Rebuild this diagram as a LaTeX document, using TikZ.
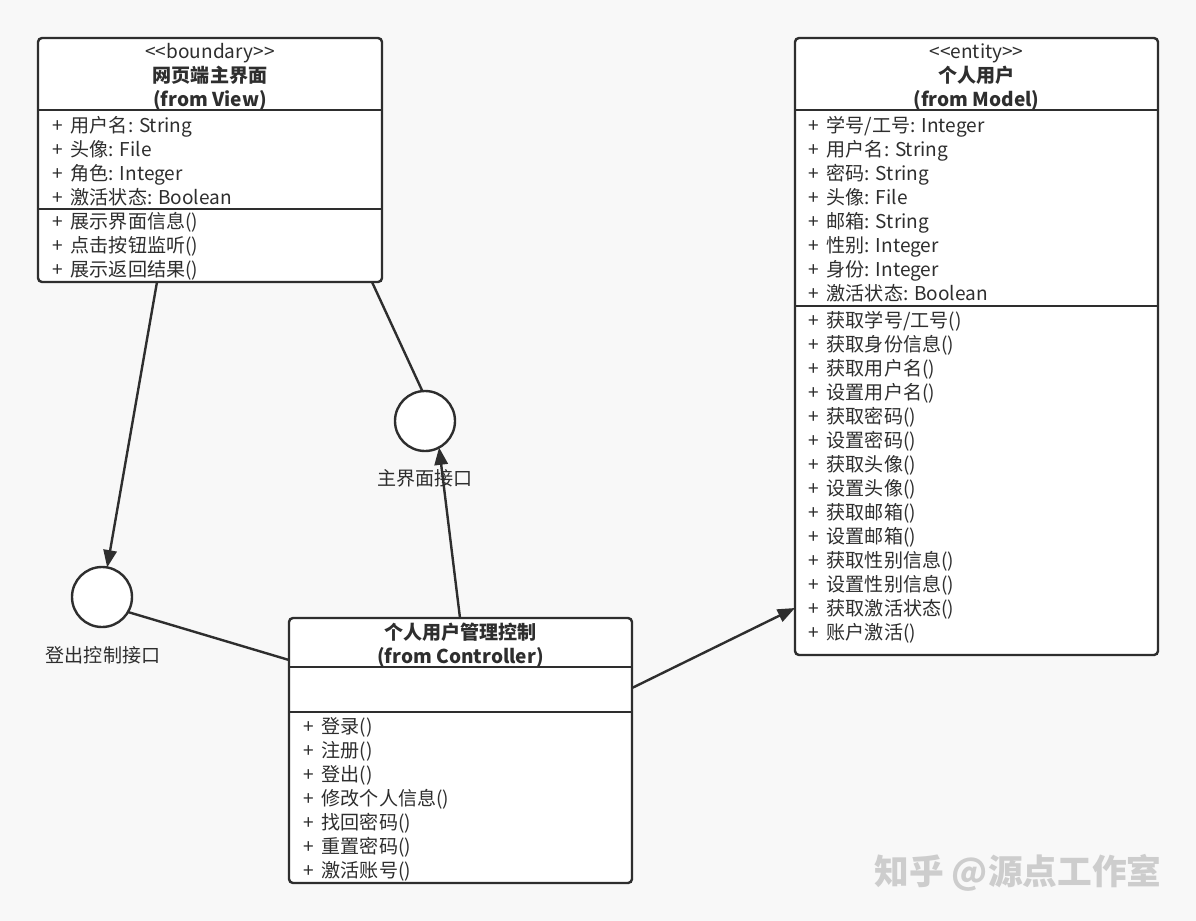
\documentclass[tikz,border=0pt]{standalone}
\usepackage{fontspec}
\setmainfont{Noto Sans CJK SC}
\usetikzlibrary{arrows.meta}
\definecolor{bg}{HTML}{F8F8F8}
\definecolor{ink}{HTML}{2E2E2E}
\definecolor{wmc}{HTML}{CDCDCD}
\newcommand\pl{+\hspace{6pt}}
\tikzset{
 classbox/.style={draw=ink, fill=white, line width=1.8pt, rounded corners=3pt, inner sep=0pt, outer sep=0pt},
 sepline/.style={draw=ink, line width=1.8pt},
 row/.style={anchor=base west, inner sep=0pt, font=\fontsize{14.3pt}{16pt}\selectfont, text=ink},
 ctitle/.style={anchor=base, inner sep=0pt, font=\fontsize{14.3pt}{16pt}\selectfont, text=ink},
 btitle/.style={ctitle, font=\fontsize{14.3pt}{16pt}\selectfont\bfseries},
 iface/.style={circle, draw=ink, fill=white, line width=1.8pt, minimum size=45pt, inner sep=0pt, outer sep=0pt},
 lbl/.style={inner sep=0pt, font=\fontsize{14.3pt}{16pt}\selectfont, text=ink},
 link/.style={draw=ink, line width=1.8pt},
 arr/.style={link, -{Triangle[length=13pt,width=10pt]}},
 wmark/.style={inner sep=0pt, font=\fontsize{26pt}{28pt}\selectfont\bfseries, text=wmc},
}
\begin{document}
\begin{tikzpicture}[x=0.75pt,y=-0.75pt]
\fill[bg] (0,0) rectangle (1196,921);
\useasboundingbox (0,0) rectangle (1196,921);

% ---------- Box 1: boundary ----------
\node[classbox, minimum width=258pt, minimum height=183pt] (b1) at (210,160) {};
\draw[sepline] (38,110) -- (382,110);
\draw[sepline] (38,209) -- (382,209);
\node[ctitle] (b1t1) at (210,58.5) {<\kern0pt<boundary>\kern0pt>};
\node[btitle] (b1t2) at (210,82.5) {网页端主界面};
\node[btitle] (b1t3) at (210,106.5) {(from View)};
\node[row] (b1r1) at (52,132.5) {\pl 用户名: String};
\node[row] (b1r2) at (52,156.5) {\pl 头像: File};
\node[row] (b1r3) at (52,180.5) {\pl 角色: Integer};
\node[row] (b1r4) at (52,204.5) {\pl 激活状态: Boolean};
\node[row] (b1m1) at (52,228.5) {\pl 展示界面信息()};
\node[row] (b1m2) at (52,252.5) {\pl 点击按钮监听()};
\node[row] (b1m3) at (52,276.5) {\pl 展示返回结果()};

% ---------- Box 2: entity ----------
\node[classbox, minimum width=272.25pt, minimum height=462.75pt] (b2) at (976.5,346.5) {};
\draw[sepline] (795,110) -- (1158,110);
\draw[sepline] (795,306) -- (1158,306);
\node[ctitle] (b2t1) at (976.5,58.5) {<\kern0pt<entity>\kern0pt>};
\node[btitle] (b2t2) at (976.5,82.5) {个人用户};
\node[btitle] (b2t3) at (976.5,106.5) {(from Model)};
\node[row] (b2r1) at (808,132.5) {\pl 学号/工号: Integer};
\node[row] (b2r2) at (808,156.5) {\pl 用户名: String};
\node[row] (b2r3) at (808,180.5) {\pl 密码: String};
\node[row] (b2r4) at (808,204.5) {\pl 头像: File};
\node[row] (b2r5) at (808,228.5) {\pl 邮箱: String};
\node[row] (b2r6) at (808,252.5) {\pl 性别: Integer};
\node[row] (b2r7) at (808,276.5) {\pl 身份: Integer};
\node[row] (b2r8) at (808,300.5) {\pl 激活状态: Boolean};
\node[row] (b2m1) at (808,327.5) {\pl 获取学号/工号()};
\node[row] (b2m2) at (808,351.5) {\pl 获取身份信息()};
\node[row] (b2m3) at (808,375.5) {\pl 获取用户名()};
\node[row] (b2m4) at (808,399.5) {\pl 设置用户名()};
\node[row] (b2m5) at (808,423.5) {\pl 获取密码()};
\node[row] (b2m6) at (808,447.5) {\pl 设置密码()};
\node[row] (b2m7) at (808,471.5) {\pl 获取头像()};
\node[row] (b2m8) at (808,495.5) {\pl 设置头像()};
\node[row] (b2m9) at (808,519.5) {\pl 获取邮箱()};
\node[row] (b2m10) at (808,543.5) {\pl 设置邮箱()};
\node[row] (b2m11) at (808,567.5) {\pl 获取性别信息()};
\node[row] (b2m12) at (808,591.5) {\pl 设置性别信息()};
\node[row] (b2m13) at (808,615.5) {\pl 获取激活状态()};
\node[row] (b2m14) at (808,639.5) {\pl 账户激活()};

% ---------- Box 3: controller ----------
\node[classbox, minimum width=257.25pt, minimum height=198.75pt] (b3) at (460.5,750.5) {};
\draw[sepline] (289,667) -- (632,667);
\draw[sepline] (289,712) -- (632,712);
\node[btitle] (b3t1) at (460.5,639.5) {个人用户管理控制};
\node[btitle] (b3t2) at (460.5,663.5) {(from Controller)};
\node[row] (b3m1) at (303,733.5) {\pl 登录()};
\node[row] (b3m2) at (303,757.5) {\pl 注册()};
\node[row] (b3m3) at (303,781.5) {\pl 登出()};
\node[row] (b3m4) at (303,805.5) {\pl 修改个人信息()};
\node[row] (b3m5) at (303,829.5) {\pl 找回密码()};
\node[row] (b3m6) at (303,853.5) {\pl 重置密码()};
\node[row] (b3m7) at (303,877.5) {\pl 激活账号()};

% ---------- Interfaces ----------
\node[iface] (c1) at (102,597) {};
\node[lbl] (l1) at (103,655) {登出控制接口};
\node[iface] (c2) at (425,421) {};
\node[lbl] (l2) at (425,478) {主界面接口};

% ---------- Connector end points on box borders ----------
\coordinate (b1a) at (157,282);
\coordinate (b1b) at (372,282);
\coordinate (b3t) at (460,618);
\coordinate (b3l) at (289,660);
\coordinate (b3r) at (632,688);
\coordinate (b2l) at (795,608);

\draw[arr] (b1a) -- (c1);
\draw[link] (b1b) -- (c2.95);
\draw[arr] (b3t) -- (c2.-62);
\draw[link] (c1.-30) -- (b3l);
\draw[arr] (b3r) -- (b2l);

% ---------- Watermark ----------
\node[wmark] (wm) at (1018,873) {知乎 @源点工作室};
\end{tikzpicture}
\end{document}
